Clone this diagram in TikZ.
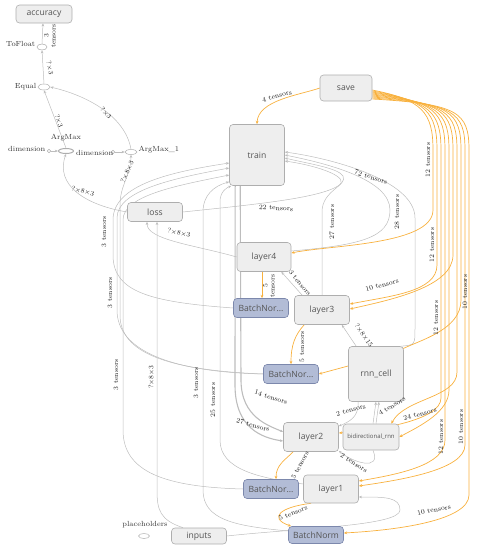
\documentclass[tikz,border=0pt]{standalone}
\usepackage{fontspec}
\setsansfont{Open Sans}
\usetikzlibrary{calc}
\usetikzlibrary{positioning,shapes,arrows.meta}
\pgfdeclarelayer{background}
\pgfsetlayers{background,main}
\definecolor{groupfill}{HTML}{EEEEEE}
\definecolor{groupline}{HTML}{AEAEAE}
\definecolor{grouptext}{HTML}{555555}
\definecolor{bnfill}{HTML}{B2BCD6}
\definecolor{bnline}{HTML}{7C88AC}
\definecolor{edgegray}{HTML}{BDBDBD}
\definecolor{saveorange}{HTML}{F8B13E}
\tikzstyle{groupbox} = [rectangle, rounded corners=3.5pt, draw=groupline, fill=groupfill, text=grouptext, font=\sffamily\fontsize{8.6}{9}\selectfont, inner sep=1pt, minimum width=55pt, minimum height=29pt, line width=0.6pt]
\tikzstyle{bnorm} = [groupbox, draw=bnline, fill=bnfill, minimum height=19pt]
\tikzstyle{opnode} = [ellipse, draw=groupline, fill=white, minimum width=11pt, minimum height=6pt, inner sep=0pt, line width=0.5pt]
\tikzstyle{dimdot} = [circle, draw=groupline, fill=white, minimum size=3.5pt, inner sep=0pt, line width=0.5pt]
\tikzstyle{oplabel} = [font=\fontsize{7.4}{8}\selectfont, text=black!80, inner sep=0.5pt]
\tikzstyle{lbl} = [font=\fontsize{6.8}{7}\selectfont, text=black!90, inner sep=0.3pt, align=center]
\tikzstyle{flow} = [draw=edgegray, line width=0.5pt, -{Stealth[length=3.2pt,width=2.6pt]}]
\tikzstyle{bigflow} = [flow, line width=1.1pt]
\tikzstyle{saveflow} = [draw=saveorange, line width=0.7pt, -{Stealth[length=3.4pt,width=2.8pt]}]

\begin{document}
\begin{tikzpicture}[x=1pt,y=-1pt]
		\useasboundingbox (0,0) rectangle (482,550);
		% small ops on the top left
		\node (accuracy) [groupbox,minimum width=56pt,minimum height=18pt] at (44,14) {accuracy};
		\node (tofloat) [opnode,minimum width=10pt] at (42,47) {};
		\node (equal) [opnode,minimum width=12pt] at (44,87) {};
		\node (argmax) [opnode,minimum width=15pt,minimum height=5pt,line width=1pt] at (66,151) {};
		\node (argmax1) [opnode,minimum width=12pt,minimum height=5pt] at (131,152) {};
		\node (dim1) [dimdot] at (49,151) {};
		\node (dim2) [dimdot] at (113,152) {};
		\node (placeholders) [opnode,minimum width=11pt,minimum height=5pt] at (144,536) {};
		\node (tofloat-lbl) [oplabel,anchor=east] at (36,44) {ToFloat};
		\node (equal-lbl) [oplabel,anchor=east] at (37,87) {Equal};
		\node (argmax-lbl) [oplabel] at (66,138) {ArgMax};
		\node (argmax1-lbl) [oplabel,anchor=west] at (138,150) {ArgMax\_1};
		\node (dim1-lbl) [oplabel,anchor=east] at (46,149) {dimension};
		\node (dim2-lbl) [oplabel,anchor=east] at (114,153) {dimension};
		\node (placeholders-lbl) [oplabel] at (145,525) {placeholders};
		
		% groups
		\node (train) [groupbox,minimum height=61pt] at (257,155) {train};
		\node (save) [groupbox,minimum width=52pt,minimum height=26pt] at (346,88) {save};
		\node (loss) [groupbox,minimum height=19pt] at (155,212) {loss};
		\node (layer4) [groupbox,minimum width=54pt] at (264,257) {layer4};
		\node (bn1) [bnorm] at (261,308) {BatchNor...};
		\node (layer3) [groupbox] at (322,310) {layer3};
		\node (bn2) [bnorm] at (291,374) {BatchNor...};
		\node (rnncell) [groupbox,minimum height=55pt] at (376,374) {rnn\_cell};
		\node (layer2) [groupbox] at (311,437) {layer2};
		\node (bidir) [groupbox,minimum width=56pt,minimum height=26pt,font=\sffamily\fontsize{6}{7}\selectfont] at (371,437) {bidirectional\_rnn};
		\node (bn3) [bnorm] at (271,489) {BatchNor...};
		\node (layer1) [groupbox,minimum height=28pt] at (331,489) {layer1};
		\node (bn0) [bnorm,minimum height=17pt] at (316,535) {BatchNorm};
		\node (inputs) [groupbox,minimum height=16pt] at (199,536) {inputs};
		
		\begin{pgfonlayer}{background}
		% top left chain
		\draw [flow] (tofloat.north) -- ($(accuracy.south)+(-1,0)$);
		\draw [flow] (equal.north) -- (tofloat.south);
		\draw [flow] (argmax.north) -- (equal.south);
		\draw [flow] (argmax1.north) .. controls (125,115) and (85,95) .. (equal.east);
		\draw [flow] (dim1) -- (argmax);
		\draw [flow] (dim2) -- (argmax1);
		\draw [flow] (loss.west) .. controls (85,205) and (55,185) .. (argmax.south);
		\draw [flow] (bn2.west) .. controls (165,370) and (120,352) .. (120,315) -- (120,205) .. controls (120,185) and (131,175) .. (argmax1.south);
		
		% long lines on the left into train
		\draw [flow] (bn1.west) .. controls (150,302) and (113,292) .. (113,255) -- (113,220) .. controls (113,185) and (170,172) .. ($(train.west)+(0,8)$);
		\draw [flow] (bn2.west) .. controls (170,372) and (117,350) .. (117,310) -- (117,218) .. controls (117,190) and (175,178) .. ($(train.west)+(0,13)$);
		\draw [flow] (bn3.west) .. controls (165,487) and (123,472) .. (123,430) -- (123,220) .. controls (123,195) and (180,185) .. ($(train.west)+(0,20)$);
		\draw [flow] ($(bn0.west)+(0,-4)$) .. controls (235,526) and (203,520) .. (203,490) -- (203,212) .. controls (203,195) and (214,186) .. ($(train.south west)+(0,-4)$);
		\draw [flow] ($(inputs.north)+(-16,0)$) .. controls (160,520) and (157,510) .. (157,490) -- ($(loss.south)+(2,0)$);
		\draw [flow] (layer4.west) .. controls (195,245) and (147,240) .. ($(loss.south)+(-8,0)$);
		\draw [flow] (loss.east) .. controls (260,204) and (318,198) .. (338,186) .. controls (352,178) and (320,166) .. ($(train.east)+(0,6)$);
		
		% lines on the right into train
		\draw [flow] (layer3.north) -- (322,212) .. controls (322,190) and (348,186) .. (343,176) .. controls (338,168) and (310,164) .. ($(train.east)+(0,3)$);
		\draw [flow] ($(layer4.east)+(0,-6)$) .. controls (360,245) and (390,238) .. (390,210) .. controls (390,180) and (330,164) .. (train.east);
		\draw [flow] ($(rnncell.north east)+(-3,0)$) .. controls (415,345) .. (415,328) -- (415,218) .. controls (415,180) and (330,158) .. ($(train.east)+(0,-3)$);
		
		% bundle from train down to layer2 and layer1
		\draw [bigflow] ($(train.south west)+(11,0)$) -- (241,380) .. controls (241,418) and (270,426) .. ($(layer2.west)+(0,-5)$);
		\draw [bigflow] ($(train.south west)+(6,0)$) -- (235,385) .. controls (235,428) and (262,438) .. ($(layer2.west)+(0,4)$);
		\draw [flow] ($(layer1.west)+(0,-5)$) .. controls (260,478) and (220,470) .. (220,440) -- (220,202) .. controls (220,192) and (226,188) .. ($(train.south west)+(2,0)$);
		
		% middle
		\draw [flow] ($(layer3.north west)+(8,0)$) -- ($(layer4.south east)+(-10,0)$);
		\draw [flow] ($(rnncell.north west)+(8,0)$) -- ($(layer3.south east)+(-8,0)$);
		\draw [flow] ($(bidir.north)+(2,0)$) -- ($(rnncell.south)+(0,0)$);
		\draw [flow] ($(bidir.north)+(5,0)$) -- ($(rnncell.south)+(3,0)$);
		\draw [flow] ($(rnncell.south west)+(10,0)$) .. controls (359,418) and (348,422) .. ($(layer2.north east)+(0,4)$);
		\draw [flow] ($(bidir.south)+(2,0)$) .. controls (382,472) and (352,462) .. ($(layer2.south east)+(0,-1)$);
		\draw [flow] (inputs.east) .. controls (300,528) and (400,526) .. (400,510) .. controls (400,497) and (385,497) .. ($(layer1.east)+(0,8)$);
		
		% orange: layers to batch norms
		\draw [saveflow] ($(layer4.south)+(-2,0)$) -- ($(bn1.north)+(1,0)$);
		\draw [saveflow] ($(layer3.south west)+(10,0)$) .. controls (295,335) and (291,345) .. (bn2.north);
		\draw [saveflow] ($(layer2.south west)+(10,0)$) .. controls (285,460) and (276,465) .. ($(bn3.north)+(5,0)$);
		\draw [saveflow] ($(layer1.south west)+(8,0)$) .. controls (280,507) and (268,518) .. ($(bn0.north west)+(3,0)$);
		
		% orange: save outputs
		\draw [saveflow] (save.west) .. controls (300,95) and (258,100) .. (train.north);
		\draw [saveflow] ($(save.east)+(0,2)$) .. controls (422,100) and (433,112) .. (433,150) -- (433,210) .. controls (433,245) and (330,245) .. ($(layer4.east)+(0,-4)$);
		\draw [saveflow] ($(save.east)+(0,3)$) .. controls (426,100) and (437,112) .. (437,150) -- (437,265) .. controls (437,292) and (390,296) .. ($(layer3.east)+(0,-6)$);
		\draw [saveflow] ($(save.east)+(0,4)$) .. controls (430,101) and (441,112) .. (441,150) -- (441,398) .. controls (441,420) and (380,430) .. ($(layer2.east)+(0,-4)$);
		\draw [saveflow] ($(save.east)+(0,5)$) .. controls (434,101) and (445,112) .. (445,150) -- (445,440) .. controls (445,465) and (400,474) .. ($(layer1.east)+(0,-8)$);
		\draw [saveflow] ($(save.east)+(0,6)$) .. controls (438,102) and (449,112) .. (449,150) -- (449,390) .. controls (449,412) and (420,426) .. (bidir.east);
		\draw [saveflow] ($(save.east)+(0,7)$) .. controls (442,102) and (453,112) .. (453,150) -- (453,255) .. controls (453,287) and (390,300) .. ($(layer3.east)+(0,-1)$);
		\draw [saveflow] ($(save.east)+(0,8)$) .. controls (446,103) and (457,112) .. (457,150) -- (457,372) .. controls (457,398) and (405,398) .. ($(bidir.north east)+(-8,0)$);
		\draw [saveflow] ($(save.east)+(0,9)$) .. controls (450,103) and (461,112) .. (461,150) -- (461,300) .. controls (461,330) and (420,340) .. (400,350) .. controls (380,358) and (340,368) .. (bn2.east);
		\draw [saveflow] ($(save.east)+(0,10)$) .. controls (454,104) and (465,112) .. (465,150) -- (465,445) .. controls (465,470) and (400,480) .. ($(layer1.east)+(0,-3)$);
		\draw [saveflow] ($(save.east)+(0,11)$) .. controls (458,104) and (469,112) .. (469,150) -- (469,495) .. controls (469,520) and (400,530) .. ($(bn0.east)+(0,-2)$);
		\end{pgfonlayer}
		
		% labels
		\node (l-acc) [lbl,rotate=90] at (50,36) {3\\tensors};
		\node (l-eq) [lbl,rotate=-78] at (50,68) {?×3};
		\node (l-am) [lbl,rotate=-72] at (59,121) {?×3};
		\node (l-am1) [lbl,rotate=-48] at (106,113) {?×3};
		\node (l-loss-am) [lbl,rotate=-15] at (83,191) {?×8×3};
		\node (l-am1-in) [lbl,rotate=66] at (127,172) {?×8×3};
		\node (l-layer4-loss) [lbl,rotate=-12] at (179,233) {?×8×3};
		\node (l-bn1) [lbl,rotate=90] at (104,232) {3 tensors};
		\node (l-bn2) [lbl,rotate=90] at (110,293) {3 tensors};
		\node (l-bn3) [lbl,rotate=90] at (116,375) {3 tensors};
		\node (l-inputs) [lbl,rotate=90] at (151,377) {?×8×3};
		\node (l-bn0) [lbl,rotate=90] at (196,383) {3 tensors};
		\node (l-layer1) [lbl,rotate=90] at (213,400) {25 tensors};
		\node (l-save) [lbl,rotate=15] at (277,96) {4 tensors};
		\node (l-loss) [lbl,rotate=-4] at (276,208) {22 tensors};
		\node (l-rnn) [lbl,rotate=-18] at (371,177) {72 tensors};
		\node (l-layer3) [lbl,rotate=90] at (332,222) {27 tensors};
		\node (l-layer4) [lbl,rotate=90] at (397,212) {28 tensors};
		\node (l-l3l4) [lbl,rotate=-50] at (300,283) {3 tensors};
		\node (l-rnnl3) [lbl,rotate=-55] at (364,335) {?×8×15};
		\node (l-bn1-in) [lbl,rotate=90] at (269,286) {5\\tensors};
		\node (l-bn2-in) [lbl,rotate=90] at (302,347) {5 tensors};
		\node (l-14) [lbl,rotate=-18] at (271,397) {14 tensors};
		\node (l-27) [lbl,rotate=-15] at (253,425) {27 tensors};
		\node (l-rnnl2) [lbl,rotate=15] at (351,410) {2 tensors};
		\node (l-bidl2) [lbl,rotate=-32] at (354,463) {2 tensors};
		\node (l-bn3-in) [lbl,rotate=62] at (300,465) {5 tensors};
		\node (l-bn0-in) [lbl,rotate=22] at (293,513) {5 tensors};
		\node (l-s1) [lbl,rotate=90] at (428,160) {12 tensors};
		\node (l-s2) [lbl,rotate=90] at (432,245) {12 tensors};
		\node (l-s3) [lbl,rotate=15] at (382,285) {10 tensors};
		\node (l-s4) [lbl,rotate=90] at (436,318) {12 tensors};
		\node (l-s5) [lbl,rotate=90] at (465,292) {10 tensors};
		\node (l-s6) [lbl,rotate=15] at (420,414) {24 tensors};
		\node (l-s7) [lbl,rotate=32] at (392,406) {4 tensors};
		\node (l-s8) [lbl,rotate=90] at (441,437) {12 tensors};
		\node (l-s9) [lbl,rotate=90] at (461,427) {10 tensors};
		\node (l-s10) [lbl,rotate=10] at (434,510) {10 tensors};
		
	\end{tikzpicture}
\end{document}
